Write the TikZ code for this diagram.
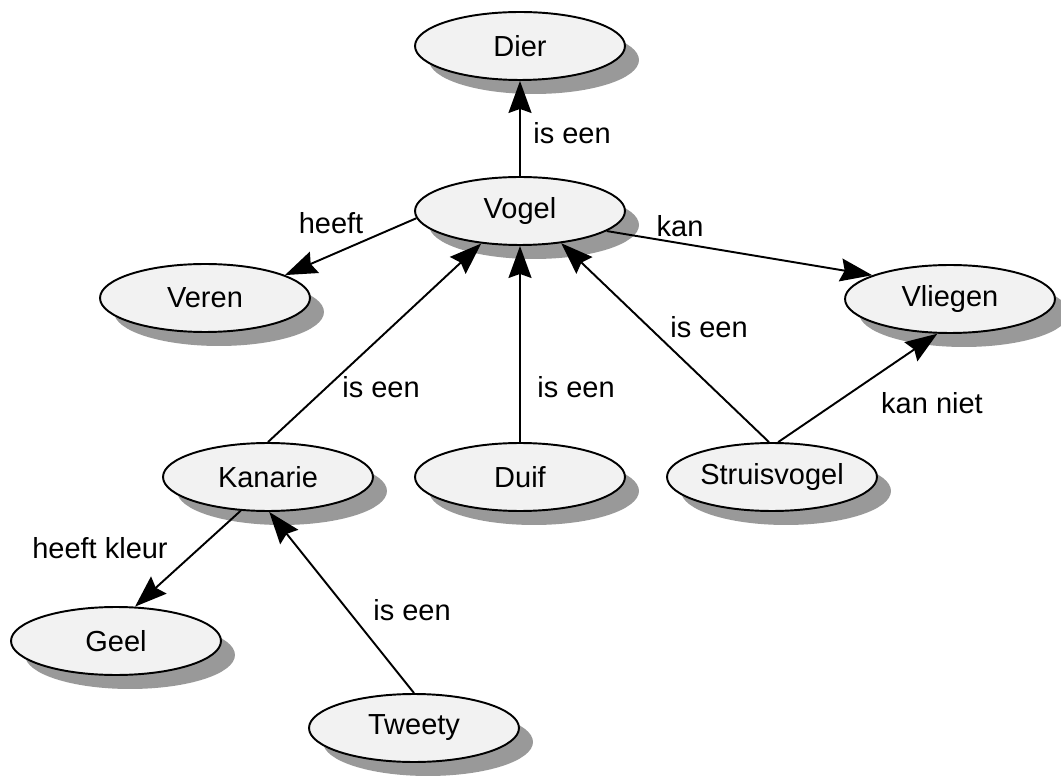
\documentclass[tikz,border=0pt]{standalone}
\usepackage{fontspec}
\setmainfont{Liberation Sans}
\usetikzlibrary{shapes.geometric}
\usetikzlibrary{arrows.meta}
\usetikzlibrary{shadows}

\tikzset{
	concept/.style={ellipse, draw, line width=1.1pt, fill=black!5,
		minimum width=4.2cm, minimum height=1.36cm, inner sep=0pt,
		drop shadow={shadow xshift=0.28cm, shadow yshift=-0.28cm, fill=black!40, opacity=1}},
	relation/.style={line width=1.1pt, -{Stealth[length=6.4mm, width=4.6mm, inset=0.8mm]}},
	lbl/.style={inner sep=0pt}
}

\begin{document}
\begin{tikzpicture}[x=0.02cm, y=-0.02cm, font=\fontsize{16.5}{20}\selectfont]
		\useasboundingbox (0,0) rectangle (1061,776);
		% concepts
		\node[concept] (dier) at (520,46) {Dier};
		\node[concept] (vogel) at (520,211) {Vogel};
		\node[concept] (veren) at (205,298) {Veren};
		\node[concept] (vliegen) at (950,299) {Vliegen};
		\node[concept] (kanarie) at (268,477) {Kanarie};
		\node[concept] (duif) at (520,477) {Duif};
		\node[concept] (struis) at (772,477) {Struisvogel};
		\node[concept] (geel) at (116,641) {Geel};
		\node[concept] (tweety) at (414,728) {Tweety};
		% relations
		\draw[relation] (vogel.north) -- (dier.south);
		\draw[relation] (vogel.184) -- (veren.16);
		\draw[relation] (vogel.-13) -- (vliegen.163);
		\draw[relation] (kanarie.north) -- (vogel.220);
		\draw[relation] (duif.north) -- (vogel.south);
		\draw[relation] (struis.95) -- (vogel.322);
		\draw[relation] (struis.80) -- (vliegen.250);
		\draw[relation] (kanarie.231) -- (geel.61);
		\draw[relation] (tweety.north) -- (kanarie.272);
		% labels
		\node[lbl] (l1) at (572,133) {is een};
		\node[lbl] (l2) at (331,223) {heeft};
		\node[lbl] (l3) at (680,226) {kan};
		\node[lbl] (l4) at (381,387) {is een};
		\node[lbl] (l5) at (576,387) {is een};
		\node[lbl] (l6) at (709,327) {is een};
		\node[lbl] (l7) at (932,403) {kan niet};
		\node[lbl] (l8) at (100,548) {heeft kleur};
		\node[lbl] (l9) at (412,610) {is een};
	\end{tikzpicture}
\end{document}
